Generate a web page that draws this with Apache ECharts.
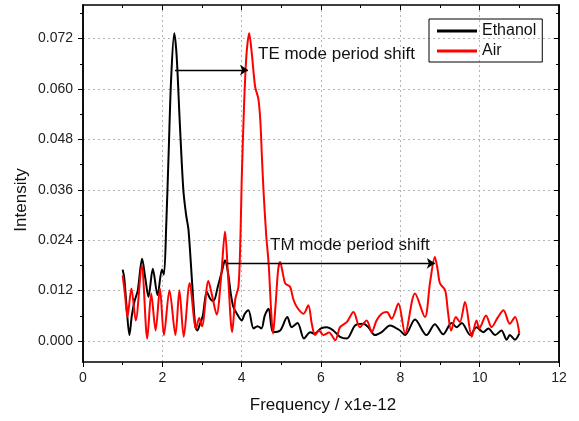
<!DOCTYPE html>
<html>
<head>
<meta charset="utf-8">
<script src="https://cdn.jsdelivr.net/npm/echarts@6/dist/echarts.min.js"></script>
<style>
html,body{margin:0;padding:0;background:#fff;}
#chart{width:579px;height:421px;}
</style>
</head>
<body>
<div id="chart"></div>
<script>
// ---- Data ----
const ethanolX = [1.00,1.04,1.10,1.17,1.23,1.30,1.38,1.49,1.57,1.65,1.76,1.88,1.99,2.04,2.10,2.16,2.22,2.30,2.36,2.44,2.53,2.60,2.66,2.75,2.83,2.88,2.95,3.02,3.12,3.21,3.29,3.40,3.50,3.58,3.66,3.73,3.79,3.88,4.00,4.08,4.17,4.30,4.40,4.50,4.58,4.68,4.79,4.97,5.15,5.26,5.41,5.57,5.73,5.84,6.00,6.15,6.31,6.48,6.65,6.86,7.07,7.20,7.36,7.53,7.74,7.99,8.12,8.37,8.66,8.87,9.08,9.29,9.42,9.55,9.76,9.92,10.09,10.22,10.39,10.55,10.68,10.76,10.89,11.00];
const ethanolY = [0.0170,0.0150,0.0080,0.0014,0.0060,0.0095,0.0120,0.0196,0.0150,0.0105,0.0172,0.0109,0.0170,0.0158,0.0280,0.0450,0.0620,0.0733,0.0680,0.0520,0.0359,0.0300,0.0264,0.0140,0.0035,0.0025,0.0041,0.0060,0.0117,0.0100,0.0095,0.0130,0.0165,0.0192,0.0160,0.0110,0.0081,0.0065,0.0049,0.0065,0.0073,0.0030,0.0035,0.0030,0.0060,0.0077,0.0021,0.0025,0.0057,0.0033,0.0043,0.0006,0.0021,0.0017,0.0030,0.0033,0.0025,0.0010,0.0006,0.0037,0.0041,0.0032,0.0014,0.0021,0.0037,0.0025,0.0014,0.0051,0.0014,0.0040,0.0016,0.0043,0.0033,0.0043,0.0014,0.0033,0.0021,0.0030,0.0014,0.0025,0.0003,0.0014,0.0003,0.0018];

const airX = [1.00,1.06,1.12,1.22,1.33,1.48,1.62,1.72,1.83,1.94,2.04,2.18,2.33,2.43,2.54,2.69,2.85,2.93,3.00,3.16,3.25,3.37,3.48,3.58,3.66,3.76,3.84,3.92,3.97,4.00,4.06,4.12,4.19,4.26,4.34,4.42,4.47,4.51,4.55,4.62,4.68,4.75,4.79,4.85,4.92,4.97,5.03,5.10,5.22,5.30,5.39,5.56,5.68,5.77,5.85,5.95,6.06,6.20,6.36,6.48,6.65,6.82,6.98,7.15,7.28,7.40,7.53,7.66,7.78,7.95,8.12,8.37,8.62,8.75,8.87,8.94,9.00,9.13,9.20,9.28,9.40,9.50,9.63,9.80,9.92,9.99,10.16,10.30,10.45,10.60,10.76,10.89,11.00];
const airY = [0.0156,0.0110,0.0057,0.0125,0.0049,0.0180,0.0006,0.0113,0.0025,0.0125,0.0014,0.0121,0.0014,0.0121,0.0010,0.0138,0.0030,0.0055,0.0035,0.0143,0.0110,0.0063,0.0150,0.0261,0.0150,0.0021,0.0100,0.0130,0.0250,0.0380,0.0560,0.0680,0.0733,0.0680,0.0605,0.0577,0.0525,0.0440,0.0359,0.0250,0.0184,0.0060,0.0018,0.0080,0.0170,0.0188,0.0165,0.0137,0.0129,0.0100,0.0081,0.0065,0.0085,0.0040,0.0014,0.0025,0.0014,0.0020,0.0002,0.0033,0.0045,0.0069,0.0033,0.0049,0.0021,0.0049,0.0065,0.0069,0.0053,0.0089,0.0018,0.0113,0.0057,0.0140,0.0200,0.0170,0.0137,0.0121,0.0070,0.0025,0.0057,0.0045,0.0093,0.0010,0.0049,0.0030,0.0061,0.0033,0.0055,0.0073,0.0041,0.0057,0.0018];

const yMajorTicks = [0, 0.012, 0.024, 0.036, 0.048, 0.060, 0.072];
const yMinorTicks = [0.006, 0.018, 0.030, 0.042, 0.054, 0.066, 0.078];
const yLabels = ['0.000','0.012','0.024','0.036','0.048','0.060','0.072'];

// annotation arrows: [xStart, xEnd, y]
const teArrow = [2.32, 4.16, 0.0645];
const tmArrow = [3.63, 8.87, 0.0185];
const teText = 'TE mode period shift';
const tmText = 'TM mode period shift';

const seriesNames = ['Ethanol', 'Air'];

// ---- Build ----
const zip = (xs, ys) => xs.map((x, i) => [x, ys[i]]);
const FONT = 'Liberation Sans, Arial, sans-serif';
const X_MIN = 0, X_MAX = 12, Y_MIN = -0.005, Y_MAX = 0.08;

const chart = echarts.init(document.getElementById('chart'), null, {renderer: 'canvas'});

const axisLineStyle = {color: '#000', width: 1.5};
const gridLine = {show: true, lineStyle: {color: '#b4b4b4', type: [2, 3], width: 1}};

function yAxisDef(position, ticks, len, inside, withLabels, withSplit) {
  return {
    type: 'value', position: position, min: Y_MIN, max: Y_MAX,
    axisLine: {show: true, onZero: false, lineStyle: axisLineStyle},
    axisTick: {show: true, inside: inside, length: len, customValues: ticks, lineStyle: {color: '#000', width: 1}},
    axisLabel: withLabels ? {
      show: true, customValues: ticks, margin: 10, fontFamily: FONT, fontSize: 14, color: '#222',
      formatter: v => v.toFixed(3)
    } : {show: false},
    splitLine: withSplit ? gridLine : {show: false},
    minorTick: {show: false}
  };
}

const option = {
  animation: false,
  backgroundColor: '#fff',
  grid: {left: 83, top: 5, right: 20, bottom: 59, containLabel: false, outerBoundsMode: 'none'},
  legend: {
    data: seriesNames,
    orient: 'vertical',
    left: 429, top: 19,
    padding: [3, 6, 2, 8],
    itemGap: 2,
    itemWidth: 40, itemHeight: 3,
    icon: 'rect',
    borderColor: '#000', borderWidth: 1,
    textStyle: {fontFamily: FONT, fontSize: 16, color: '#111', lineHeight: 18}
  },
  xAxis: [
    {
      type: 'value', position: 'bottom', min: X_MIN, max: X_MAX, interval: 2,
      axisLine: {show: true, onZero: false, lineStyle: axisLineStyle},
      axisTick: {show: true, inside: false, length: 5, lineStyle: {color: '#000', width: 1}},
      minorTick: {show: true, splitNumber: 2, length: 3, lineStyle: {color: '#000', width: 1}},
      axisLabel: {show: true, margin: 9, fontFamily: FONT, fontSize: 14, color: '#222'},
      splitLine: gridLine
    },
    {
      type: 'value', position: 'top', min: X_MIN, max: X_MAX, interval: 2,
      axisLine: {show: true, onZero: false, lineStyle: axisLineStyle},
      axisTick: {show: true, inside: true, length: 5, lineStyle: {color: '#000', width: 1}},
      minorTick: {show: true, splitNumber: 2, length: 3, lineStyle: {color: '#000', width: 1}},
      axisLabel: {show: false},
      splitLine: {show: false}
    }
  ],
  yAxis: [
    yAxisDef('left', yMajorTicks, 5, false, true, true),
    yAxisDef('right', yMajorTicks, 5, true, false, false),
    yAxisDef('left', yMinorTicks, 3, false, false, false),
    yAxisDef('right', yMinorTicks, 3, true, false, false)
  ],
  graphic: [
    {type: 'text', left: 258, top: 46, style: {text: teText, font: '17px ' + FONT, fill: '#111'}},
    {type: 'text', left: 270, top: 237, style: {text: tmText, font: '17px ' + FONT, fill: '#111'}},
    {type: 'text', x: 21, y: 200, rotation: Math.PI / 2,
     style: {text: 'Intensity', font: '17px ' + FONT, fill: '#111', align: 'center', verticalAlign: 'middle'}},
    {type: 'text', x: 323, y: 405,
     style: {text: 'Frequency / x1e-12', font: '17px ' + FONT, fill: '#111', align: 'center', verticalAlign: 'middle'}}
  ],
  series: [
    {
      name: seriesNames[0], type: 'line', xAxisIndex: 0, yAxisIndex: 0,
      data: zip(ethanolX, ethanolY),
      showSymbol: false, symbol: 'none', smooth: 0.3,
      lineStyle: {color: '#000', width: 2}, itemStyle: {color: '#000'},
      markLine: {
        silent: true, symbol: ['none', 'arrow'], symbolSize: 8,
        label: {show: false},
        lineStyle: {color: '#000', width: 1.3, type: 'solid'},
        data: [
          [{coord: [teArrow[0], teArrow[2]]}, {coord: [teArrow[1], teArrow[2]]}],
          [{coord: [tmArrow[0], tmArrow[2]]}, {coord: [tmArrow[1], tmArrow[2]]}]
        ]
      }
    },
    {
      name: seriesNames[1], type: 'line', xAxisIndex: 0, yAxisIndex: 0,
      data: zip(airX, airY),
      showSymbol: false, symbol: 'none', smooth: 0.3,
      lineStyle: {color: '#ff0000', width: 2}, itemStyle: {color: '#ff0000'}
    }
  ]
};
chart.setOption(option);
</script>
</body>
</html>
